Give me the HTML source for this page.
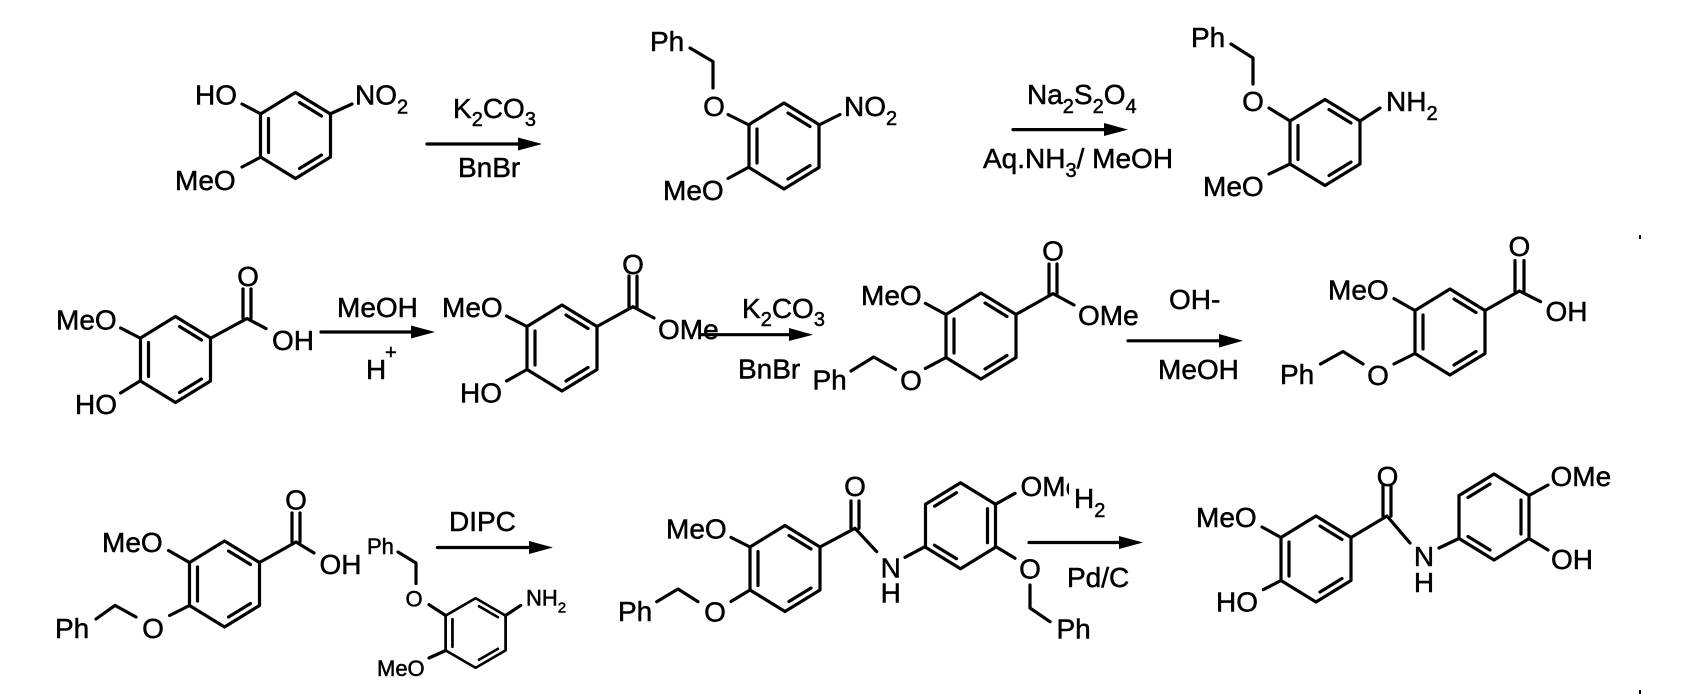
<!DOCTYPE html>
<html><head><meta charset="utf-8"><title>Synthesis scheme</title>
<style>
html,body{margin:0;padding:0;background:#fff;width:1704px;height:696px;overflow:hidden}
svg{display:block}
text{font-family:"Liberation Sans",sans-serif;font-size:28px;fill:#000;stroke:#000;stroke-width:.5px}
text:not(.m){transform:translateX(-1px)}
text.m{text-anchor:middle}
text.sm{font-size:22px}
tspan.s{font-size:20px}
tspan.t{font-size:15px}
.b{fill:none;stroke:#000;stroke-width:3.2;stroke-linecap:round;stroke-linejoin:round}
.a{fill:#000;stroke:none}
</style></head><body>
<svg width="1704" height="696" viewBox="0 0 1704 696" xmlns="http://www.w3.org/2000/svg">
<defs>
<g id="A" class="b"><path d="M0-43L35-21.5V21.5L0 43L-35 21.5V-21.5Z"/><path d="M4-33L26-19.5M-27-17V17M4 33L26 19.5"/></g>
<g id="B" class="b"><path d="M0-43L35-21.5V21.5L0 43L-35 21.5V-21.5Z"/><path d="M-4-33L-26-19.5M27-17V17M-4 33L-26 19.5"/></g>
</defs>
<rect width="1704" height="696" fill="#fff"/>

<!-- Rings -->
<use href="#A" transform="translate(295.5,135.5)"/>
<use href="#A" transform="translate(784,146)"/>
<use href="#A" transform="translate(1325,142.5)"/>
<use href="#A" transform="translate(175.5,359.5)"/>
<use href="#A" transform="translate(562,348)"/>
<use href="#A" transform="translate(981,336)"/>
<use href="#A" transform="translate(1450,332)"/>
<use href="#A" transform="translate(224.5,584)"/>
<use href="#A" transform="translate(475.6,633) scale(.857,.81)"/>
<use href="#A" transform="translate(785,568.5)"/>
<use href="#B" transform="translate(960.5,525.7)"/>
<use href="#A" transform="translate(1316,559)"/>
<use href="#B" transform="translate(1494,517)"/>

<!-- Bonds -->
<path class="b" d="M261 114L242 104M330 114L352 104M261 157L242 167"/>
<path class="b" d="M690 48L713 61.6V88M728 114.5L749 125M819 125L840 114.5M749 167L728 178.5"/>
<path class="b" d="M1231 44L1253 58V84M1269 108L1290 121M1360 121L1380 108M1290 164L1269 174"/>

<path class="b" d="M140 338L120.6 328M211 338L247 318.5L266 328.6M243 318.5V289M251 318.5V289M140 381L120.6 393"/>
<path class="b" d="M527 326.5L506.5 316M597 326.5L633 306.7L654 318M629 306.7V276M637 306.7V276M527 369.5L506.5 381"/>
<path class="b" d="M946 314.5L925.4 303.4M1016 314.5L1053 293.6L1074 305M1049 293.6V264M1057 293.6V264M946 357.5L925.4 368.4M895.5 369.4L873.7 357L851 371"/>
<path class="b" d="M1415 310.5L1394 298.7M1485 310.5L1519.4 291L1540.6 301.7M1515 291V260.6M1524 291V260.6M1415 353.5L1394 364M1363 364L1343 351.5L1320.5 364"/>

<path class="b" d="M189.5 562.5L168.5 550.5M259.5 562.5L296 542L314 553M292 542V513M300 542V513M189.5 605.5L169.6 615.5M136 617L115 605.4L96 619"/>
<path class="b" d="M398 552L416 563V583.5M429 604.7L445.7 615.5M505.5 615.5L520.7 605.4M445.7 650.5L429 658"/>
<path class="b" d="M750 547L731 537.4M820 547L855 528.3L876.7 551.7M851 528.3V501M859 528.3V501M905 557.3L925 546.7M750 590L731 601.5M656.7 601.7L678 589L698 601.7"/>
<path class="b" d="M996 504L1015 493.3M996 546.7L1015 558.3M1030 585V608L1050 621.7"/>
<path class="b" d="M1281 537.5L1262 527M1351 537.5L1387 516L1410 543M1383 516V486M1391 516V486M1439 548L1459 538.5M1281 580.5L1263.4 589.6"/>
<path class="b" d="M1529 495.5L1548 485M1529 538.5L1548 550"/>

<!-- Arrows -->
<path class="b" d="M427 144H525"/><path class="a" d="M542 144L518 137.5V150.5Z"/>
<path class="b" d="M1013 129.6H1110"/><path class="a" d="M1128 129.6L1104 123V136Z"/>
<path class="b" d="M321 332H418"/><path class="a" d="M435 332L411 325.5V338.5Z"/>
<path class="b" d="M701 334.7H796"/><path class="a" d="M813 334.7L789 328V341Z"/>
<path class="b" d="M1128 340.8H1226"/><path class="a" d="M1243 340.8L1219 334V347.5Z"/>
<path class="b" d="M437.5 547.5H536"/><path class="a" d="M553 547.5L529 541V554Z"/>
<path class="b" d="M1029 542.5H1126"/><path class="a" d="M1143 542.5L1119 536V549Z"/>

<!-- Row 1 labels -->
<text x="196" y="104.5">HO</text>
<text x="356" y="104.5">NO<tspan class="s" dy="9">2</tspan></text>
<text x="176" y="190">MeO</text>
<text x="454" y="118">K<tspan class="s" dy="8">2</tspan><tspan dy="-8">CO</tspan><tspan class="s" dy="8">3</tspan></text>
<text x="459" y="177">BnBr</text>

<text x="651" y="51">Ph</text>
<text class="m" x="714" y="116">O</text>
<text x="845" y="116">NO<tspan class="s" dy="9">2</tspan></text>
<text x="664" y="200">MeO</text>
<text x="1028" y="104">Na<tspan class="s" dy="9">2</tspan><tspan dy="-9">S</tspan><tspan class="s" dy="9">2</tspan><tspan dy="-9">O</tspan><tspan class="s" dy="9">4</tspan></text>
<text x="984" y="168">Aq.NH<tspan class="s" dy="9">3</tspan><tspan dy="-9">/ MeOH</tspan></text>

<text x="1192" y="47">Ph</text>
<text class="m" x="1253" y="111">O</text>
<text x="1387" y="111">NH<tspan class="s" dy="9">2</tspan></text>
<text x="1204" y="196">MeO</text>

<!-- Row 2 labels -->
<text x="57" y="329.5">MeO</text>
<text class="m" x="248" y="286">O</text>
<text x="273" y="350">OH</text>
<text x="76" y="414">HO</text>
<text x="338" y="317">MeOH</text>
<text x="367" y="379">H</text>
<text x="386" y="359" style="font-size:20px">+</text>

<text x="443" y="317">MeO</text>
<text class="m" x="633" y="274">O</text>
<text x="659" y="339">OMe</text>
<text x="461" y="402.5">HO</text>
<text x="743" y="318">K<tspan class="s" dy="8">2</tspan><tspan dy="-8">CO</tspan><tspan class="s" dy="8">3</tspan></text>
<text x="739" y="378.5">BnBr</text>

<text x="813.5" y="389.5">Ph</text>
<text x="862" y="305">MeO</text>
<text class="m" x="911" y="390">O</text>
<text class="m" x="1053" y="260.5">O</text>
<text x="1079" y="325">OMe</text>
<text x="1170" y="308.8">OH-</text>
<text x="1159" y="379">MeOH</text>

<text x="1329" y="299.3">MeO</text>
<text x="1281" y="384">Ph</text>
<text class="m" x="1378" y="385">O</text>
<text class="m" x="1519.4" y="256">O</text>
<text x="1546.5" y="321">OH</text>

<!-- Row 3 labels -->
<text x="103" y="552">MeO</text>
<text class="m" x="296" y="509.5">O</text>
<text x="320.5" y="574">OH</text>
<text class="m" x="153" y="638">O</text>
<text x="56" y="638">Ph</text>

<text class="sm" x="368" y="554">Ph</text>
<text class="sm m" x="414" y="606.5">O</text>
<text class="sm" x="527" y="605.5">NH<tspan class="t" dy="7">2</tspan></text>
<text class="sm" x="378" y="676">MeO</text>
<text x="450" y="531">DIPC</text>

<text x="667" y="538.7">MeO</text>
<text x="619" y="621">Ph</text>
<text class="m" x="715" y="621.5">O</text>
<text class="m" x="855" y="496">O</text>
<text class="m" x="890.7" y="577.5">N</text>
<text class="m" x="890.7" y="602.7">H</text>
<text x="1021.5" y="496">OMe</text>
<rect x="1069" y="472" width="36" height="50" fill="#fff"/>
<text x="1075" y="508">H<tspan class="s" dy="9">2</tspan></text>
<text class="m" x="1030" y="578.3">O</text>
<text x="1057.5" y="638.5">Ph</text>
<text x="1068" y="587">Pd/C</text>

<text x="1197" y="527">MeO</text>
<text x="1217" y="611.5">HO</text>
<text class="m" x="1387.5" y="486">O</text>
<text class="m" x="1424" y="566">N</text>
<text class="m" x="1424" y="592">H</text>
<text x="1551.5" y="486">OMe</text>
<text x="1552" y="569">OH</text>

<!-- Specks -->
<rect x="1639" y="235" width="2" height="4" fill="#000"/>
<rect x="1639" y="690" width="2" height="4" fill="#000"/>
</svg>
</body></html>
